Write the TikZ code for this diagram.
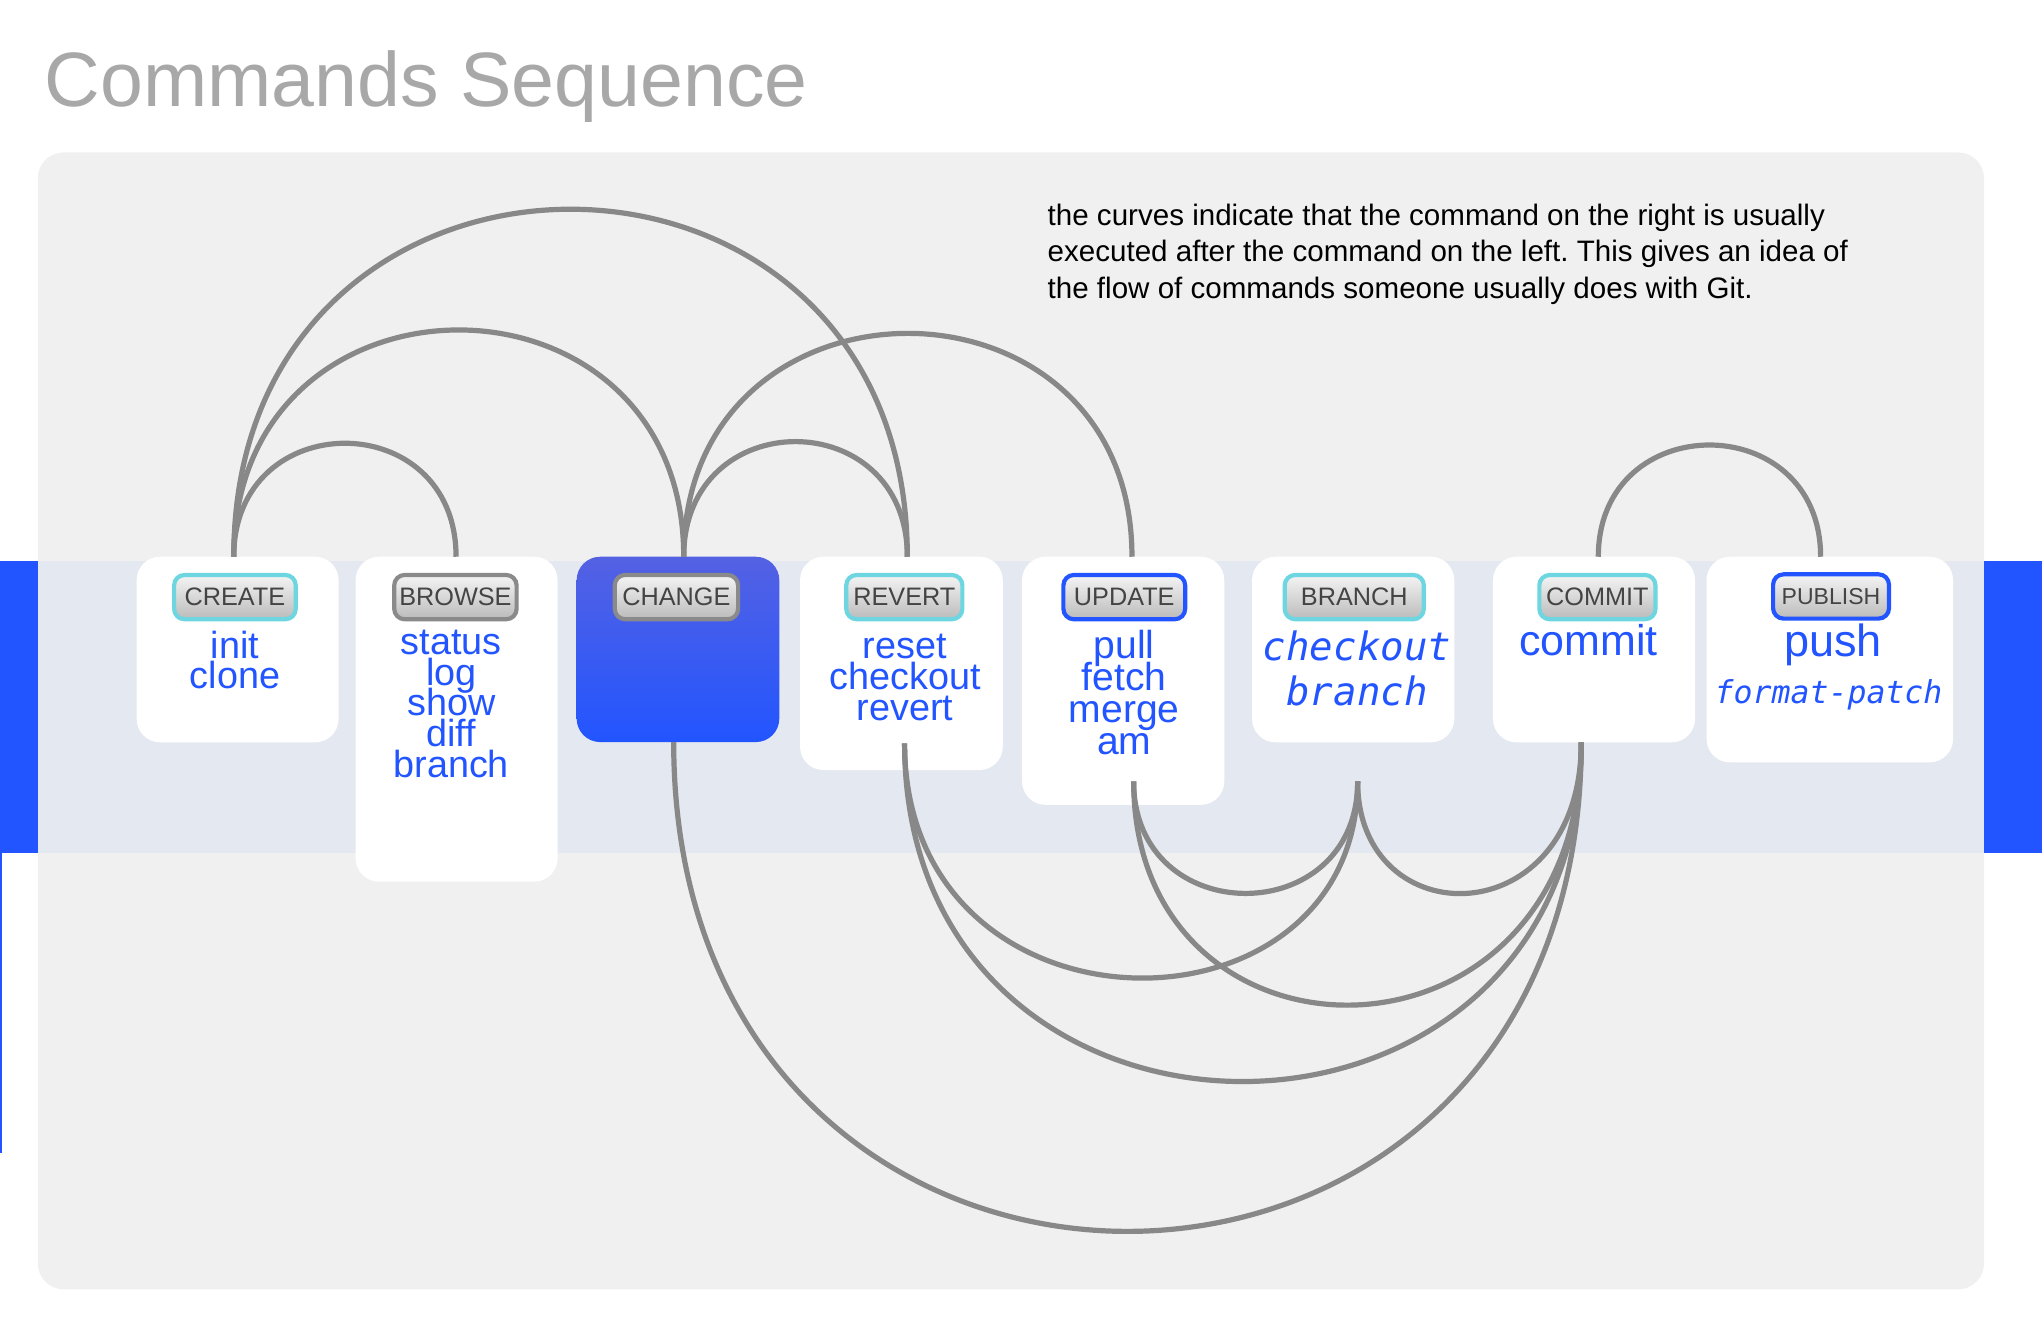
\documentclass[tikz,border=0pt]{standalone}
\usepackage{fontspec}
\setmainfont{Liberation Sans}
\newfontfamily\monoit{DejaVu Sans Mono Oblique}
\usetikzlibrary{calc}
\frenchspacing
\definecolor{panelgray}{HTML}{F0F0F0}
\definecolor{bandgray}{HTML}{E4E8F0}
\definecolor{cmdblue}{HTML}{2255FF}
\definecolor{chgtop}{HTML}{5461E3}
\definecolor{curvegray}{HTML}{888888}
\definecolor{titlegray}{HTML}{A8A8A8}
\definecolor{btncyan}{HTML}{6DD6E0}
\definecolor{btngray}{HTML}{8A8A8A}
\definecolor{btntop}{HTML}{F4F4F4}
\definecolor{btnbot}{HTML}{BBBBBB}
\definecolor{btntext}{HTML}{444444}
\newcommand\stkc[2]{\vtop{\baselineskip=#1\lineskiplimit=-50pt\lineskip=0pt\halign{\hfil##\hfil\cr#2\crcr}}}
\newcommand\stkl[2]{\vtop{\baselineskip=#1\lineskiplimit=-50pt\lineskip=0pt\halign{##\hfil\cr#2\crcr}}}
\begin{document}
\begin{tikzpicture}[x=0.5pt,y=-0.5pt,
  every node/.style={inner sep=0pt,outer sep=0pt},
  box/.style={fill=white,rounded corners=9pt,anchor=north west},
  btn/.style={rounded corners=4pt,line width=1.6pt,top color=btntop,bottom color=btnbot,
    text=btntext,font=\fontsize{9.7}{10}\selectfont,minimum height=17pt},
  cmd/.style={text=cmdblue,anchor=base},
  link/.style={draw=curvegray,line width=2pt}]
\useasboundingbox (0,0) rectangle (1568,1024);
\fill[white] (0,0) rectangle (1568,1024);
% background panel and band
\fill[panelgray,rounded corners=10pt] (29,117) rectangle (1523.5,990);
\fill[bandgray] (29,430.5) rectangle (1523.5,654.7);
\fill[cmdblue] (0,430.5) rectangle (29,654.7);
\fill[cmdblue] (1523.5,430.5) rectangle (1568,654.7);
\fill[cmdblue] (0,654.7) rectangle (1.3,885.5);
% title and description
\node[anchor=base west,text=titlegray,font=\fontsize{29.6}{34}\selectfont] (title) at (34.5,81.4) {Commands Sequence};
\node[anchor=base west,font=\fontsize{11.35}{14}\selectfont] (desc) at (804.5,172.8)
  {\stkl{14.05pt}{the curves indicate that the command on the right is usually\cr
   executed after the command on the left. This gives an idea of\cr
   the flow of commands someone usually does with Git.}};
% boxes
\node[box,minimum width=77.55pt,minimum height=71.25pt] (create) at (104.9,427.5) {};
\node[box,minimum width=77.6pt,minimum height=124.75pt] (browse) at (273,427.5) {};
\node[box,fill=none,top color=chgtop,bottom color=cmdblue,minimum width=77.8pt,minimum height=71.15pt] (change) at (442.8,427.5) {};
\node[box,minimum width=77.85pt,minimum height=81.9pt] (revert) at (614.3,427.5) {};
\node[box,minimum width=77.65pt,minimum height=95.25pt] (update) at (784.8,427.5) {};
\node[box,minimum width=77.65pt,minimum height=71.25pt] (branch) at (961.4,427.5) {};
\node[box,minimum width=77.6pt,minimum height=71.25pt] (commit) at (1146.4,427.5) {};
\node[box,minimum width=94.65pt,minimum height=78.95pt] (publish) at (1310.4,427.5) {};
% labels
\node[btn,draw=btncyan,minimum width=46.7pt] (createL) at (180.4,458.5) {CREATE};
\node[btn,draw=btngray,minimum width=47pt] (browseL) at (349.7,458.5) {BROWSE};
\node[btn,draw=btngray,minimum width=47.35pt] (changeL) at (519.4,458.5) {CHANGE};
\node[btn,draw=btncyan,minimum width=44.6pt] (revertL) at (694.4,458.5) {REVERT};
\node[btn,draw=cmdblue,minimum width=46.75pt] (updateL) at (863.3,458.5) {UPDATE};
\node[btn,draw=btncyan,minimum width=53.4pt] (branchL) at (1039.9,458.5) {BRANCH};
\node[btn,draw=btncyan,minimum width=44.6pt] (commitL) at (1226.6,458.5) {COMMIT};
\node[btn,draw=cmdblue,minimum width=44.5pt,font=\fontsize{8.85}{10}\selectfont] (publishL) at (1406,458) {PUBLISH};
% commands
\node[cmd,font=\fontsize{14.5}{11.5}\selectfont] (createC) at (180.5,505.5) {\stkc{11.55pt}{init\cr clone}};
\node[cmd,font=\fontsize{14.5}{11.8}\selectfont] (browseC) at (346.5,502.4) {\stkc{11.8pt}{status\cr log\cr show\cr diff\cr branch}};
\node[cmd,font=\fontsize{14.5}{11.9}\selectfont] (revertC) at (694.9,506) {\stkc{11.9pt}{reset\cr checkout\cr revert}};
\node[cmd,font=\fontsize{15}{12.35}\selectfont] (updateC) at (863.2,505.5) {\stkc{12.35pt}{pull\cr fetch\cr merge\cr am}};
\node[cmd,font=\monoit\fontsize{15}{17.55}\selectfont] (branchC) at (1042,506.8) {\stkc{17.55pt}{checkout\cr branch}};
\node[cmd,font=\fontsize{16.5}{18}\selectfont] (commitC) at (1219.9,503.5) {commit};
\node[cmd,font=\fontsize{17.3}{18}\selectfont] (publishC) at (1407.5,504) {push};
\node[cmd,font=\monoit\fontsize{12.1}{14}\selectfont] (publishF) at (1404.1,540) {format-patch};
% connection points
\coordinate (createT) at ($(create.north)+(-2.95,0)$);
\coordinate (browseT) at ($(browse.north)+(-0.4,0)$);
\coordinate (changeT) at ($(change.north)+(4.4,0)$);
\coordinate (revertT) at ($(revert.north)+(4.55,0)$);
\coordinate (updateT) at ($(update.north)+(6.75,0)$);
\coordinate (commitT) at ($(commit.north)+(3.3,0)$);
\coordinate (publishT) at ($(publish.north)+(-7.05,0)$);
\coordinate (changeB) at ($(change.south)+(-3.3,0)$);
\coordinate (revertB) at ($(revert.south)+(2.45,-20.5)$);
\coordinate (updateB) at ($(update.south)+(8.05,-18)$);
\coordinate (branchB) at ($(branch.south)+(3.45,30)$);
\coordinate (commitB) at ($(commit.south)+(-9.8,0)$);
% curves above
\draw[link] (createT) .. controls +(0,-116.2) and +(0,-116.2) .. (browseT);
\draw[link] (createT) .. controls +(0,-232.2) and +(0,-232.2) .. (changeT);
\draw[link] (createT) .. controls +(0,-355.8) and +(0,-355.8) .. (revertT);
\draw[link] (changeT) .. controls +(0,-117.9) and +(0,-117.9) .. (revertT);
\draw[link] (changeT) .. controls +(0,-228.7) and +(0,-228.7) .. (updateT);
\draw[link] (commitT) .. controls +(0,-114.4) and +(0,-114.4) .. (publishT);
% curves below
\draw[link] (changeB) .. controls +(0,501) and +(0,500.7) .. (commitB);
\draw[link] (revertB) .. controls +(0,346.5) and +(0,347) .. (commitB);
\draw[link] (revertB) .. controls +(0,235.2) and +(0,206) .. (branchB);
\draw[link] (updateB) .. controls +(0,234) and +(0,263.7) .. (commitB);
\draw[link] (updateB) .. controls +(0,114.7) and +(0,114.7) .. (branchB);
\draw[link] (branchB) .. controls +(0,119.6) and +(0,149.3) .. (commitB);
\end{tikzpicture}
\end{document}
